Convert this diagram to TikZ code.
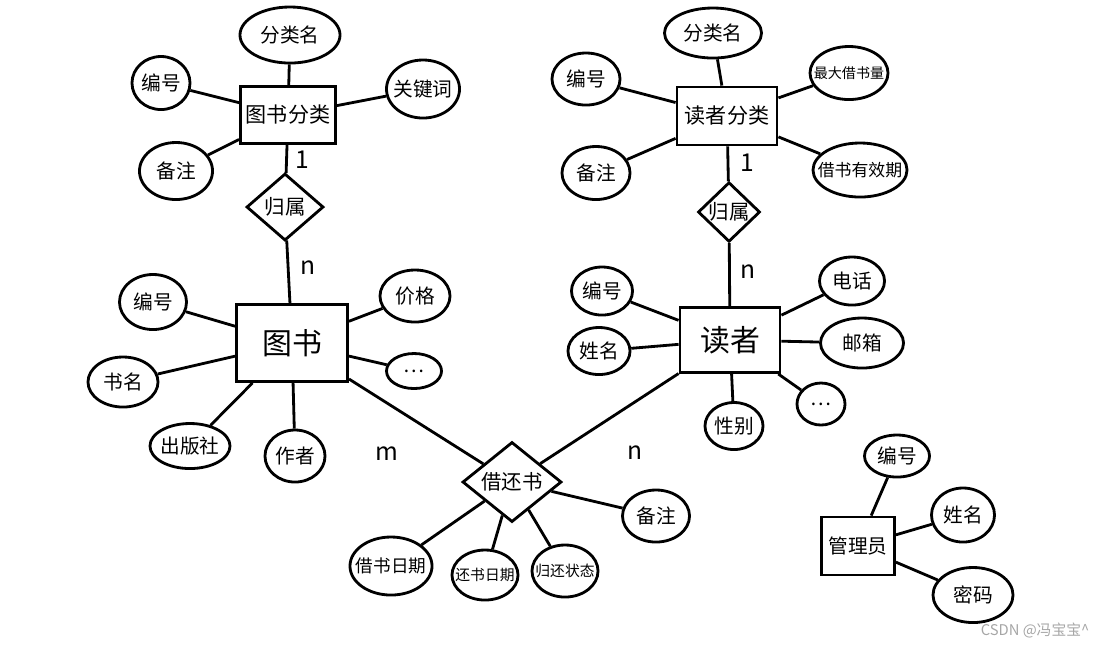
\documentclass[tikz,border=0pt]{standalone}
\usepackage{fontspec}
\newfontfamily\cjk{Noto Sans CJK SC}
\usetikzlibrary{shapes.geometric}
\begin{document}
\begin{tikzpicture}[x=0.01cm, y=-0.01cm, line width=0.8pt,
    entity/.style={draw, rectangle, inner sep=0pt, font=\cjk\fontsize{6}{7}\selectfont},
    attr/.style={draw, ellipse, inner ysep=0pt, inner xsep=-4pt, minimum width=0.66cm, minimum height=0.52cm, font=\cjk\fontsize{5.6}{6}\selectfont},
    rel/.style={draw, diamond, inner sep=0pt, font=\cjk\fontsize{5.8}{7}\selectfont},
    card/.style={font=\cjk\fontsize{7}{8}\selectfont}]
    \useasboundingbox (0,0) rectangle (1107,647);

    % Book category
    \node[entity, minimum width=0.95cm, minimum height=0.57cm] (bookcat) at (288,115) {图书分类};
    \node[attr, minimum width=1cm, minimum height=0.56cm] (bcname) at (290,35) {分类名};
    \node[attr, minimum width=0.58cm, minimum height=0.53cm] (bcid) at (161,83) {编号};
    \node[attr, minimum width=0.73cm, minimum height=0.58cm] (bckey) at (423,89) {关键词};
    \node[attr, minimum width=0.73cm, minimum height=0.57cm] (bcnote) at (176,171) {备注};
    \node[rel, minimum width=0.77cm, minimum height=0.67cm] (bbelong) at (285,207) {归属};

    % Reader category
    \node[entity, minimum width=1cm, minimum height=0.58cm] (readcat) at (727,116) {读者分类};
    \node[attr, minimum width=0.97cm, minimum height=0.5cm] (rcname) at (713,33) {分类名};
    \node[attr, minimum width=0.68cm] (rcid) at (586,79) {编号};
    \node[attr, minimum width=0.78cm, minimum height=0.53cm, font=\cjk\fontsize{4}{5}\selectfont] (rcmax) at (849,73) {最大借书量};
    \node[attr, minimum width=0.68cm, minimum height=0.53cm] (rcnote) at (596,173) {备注};
    \node[attr, minimum width=0.94cm, minimum height=0.54cm, font=\cjk\fontsize{4.8}{5}\selectfont] (rcterm) at (860,170) {借书有效期};
    \node[rel, minimum width=0.62cm, minimum height=0.55cm] (rbelong) at (729,212) {归属};

    % Book
    \node[entity, minimum width=1.11cm, minimum height=0.77cm, font=\cjk\fontsize{8.5}{9}\selectfont] (book) at (292,343) {图书};
    \node[attr, minimum width=0.67cm, minimum height=0.55cm] (bid) at (153,302) {编号};
    \node[attr, minimum width=0.7cm, minimum height=0.5cm] (bname) at (123,382) {书名};
    \node[attr, minimum width=0.8cm, minimum height=0.45cm] (bpress) at (190,446) {出版社};
    \node[attr, minimum width=0.6cm] (bauthor) at (295,456) {作者};
    \node[attr, minimum width=0.7cm] (bprice) at (415,296) {价格};
    \node[attr, minimum width=0.55cm, minimum height=0.35cm] (bmore) at (414,371) {\dots};

    % Reader
    \node[entity, minimum width=1cm, minimum height=0.65cm, font=\cjk\fontsize{8.5}{9}\selectfont] (reader) at (730,340) {读者};
    \node[attr, minimum width=0.61cm, minimum height=0.48cm] (rid) at (602,291) {编号};
    \node[attr, minimum width=0.62cm, minimum height=0.47cm] (rname) at (599,351) {姓名};
    \node[attr, minimum width=0.65cm, minimum height=0.48cm] (rphone) at (852,281) {电话};
    \node[attr, minimum width=0.83cm, minimum height=0.5cm] (rmail) at (862,343) {邮箱};
    \node[attr, minimum width=0.58cm, minimum height=0.47cm] (rsex) at (734,426) {性别};
    \node[attr, minimum width=0.48cm, minimum height=0.42cm] (rmore) at (821,404) {\dots};

    % Borrow / return
    \node[rel, minimum width=0.99cm, minimum height=0.8cm] (borrow) at (512,482) {借还书};
    \node[attr, minimum width=0.82cm, minimum height=0.58cm, font=\cjk\fontsize{5}{6}\selectfont] (bodate) at (391,566) {借书日期};
    \node[attr, minimum width=0.66cm, minimum height=0.5cm, font=\cjk\fontsize{4.2}{5}\selectfont] (redate) at (485,575) {还书日期};
    \node[attr, minimum width=0.66cm, font=\cjk\fontsize{4.2}{5}\selectfont] (bostate) at (565,571) {归还状态};
    \node[attr, minimum width=0.67cm] (bonote) at (656,516) {备注};

    % Administrator
    \node[entity, minimum width=0.73cm, minimum height=0.58cm, font=\cjk\fontsize{5.6}{6}\selectfont] (admin) at (858,546) {管理员};
    \node[attr, minimum width=0.65cm, minimum height=0.42cm] (aid) at (897,456) {编号};
    \node[attr, minimum width=0.63cm, minimum height=0.54cm] (aname) at (963,515) {姓名};
    \node[attr, minimum width=0.8cm, minimum height=0.55cm] (apass) at (973,595) {密码};

    % Attribute lines
    \foreach \e/\a in {bookcat/bcname, bookcat/bcid, bookcat/bckey, bookcat/bcnote,
        readcat/rcname, readcat/rcid, readcat/rcmax, readcat/rcnote, readcat/rcterm,
        book/bid, book/bname, book/bpress, book/bauthor, book/bprice, book/bmore,
        reader/rid, reader/rname, reader/rphone, reader/rmail, reader/rsex, reader/rmore,
        borrow/bodate, borrow/redate, borrow/bostate, borrow/bonote,
        admin/aid, admin/aname, admin/apass}
        \draw (\e) -- (\a);

    % Relationships
    \draw (bookcat) -- (bbelong) -- (book);
    \draw (readcat) -- (rbelong) -- (reader);
    \draw (book) -- (borrow) -- (reader);

    % Cardinalities
    \node[card] (c1) at (302,160) {1};
    \node[card] (c2) at (308,268) {n};
    \node[card] (c3) at (747,163) {1};
    \node[card] (c4) at (748,272) {n};
    \node[card] (c5) at (387,454) {m};
    \node[card] (c6) at (635,453) {n};

    % Watermark
    \node[text=gray!70, font=\cjk\fontsize{4.2}{5}\selectfont] (mark) at (1035,630) {CSDN @冯宝宝\^{}};
\end{tikzpicture}
\end{document}
